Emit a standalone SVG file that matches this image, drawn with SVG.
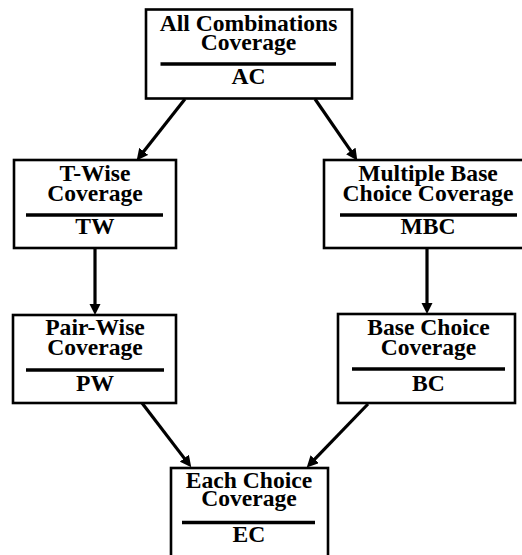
<svg xmlns="http://www.w3.org/2000/svg" width="522" height="555" viewBox="0 0 522 555">
<style>
.box{fill:#fff;stroke:#000;stroke-width:2.6}
.sep{stroke:#000;stroke-width:3.4}
.t{font-family:"Liberation Serif","Times New Roman",serif;font-weight:bold;font-size:23.6px;text-anchor:middle;fill:#000}
.c{fill:none;stroke:#000;stroke-width:3.2}
</style>
<defs>
<marker id="ah" markerUnits="userSpaceOnUse" markerWidth="12" markerHeight="12" refX="3" refY="5.75" orient="auto">
<path d="M0,0 L11.5,5.75 L0,11.5 z" fill="#000"/>
</marker>
</defs>
<rect width="522" height="555" fill="#fff"/>
<g id="connectors">
<path class="c" d="M185,99 L141.9,153.7" marker-end="url(#ah)"/>
<path class="c" d="M315,99 L352.5,153.4" marker-end="url(#ah)"/>
<path class="c" d="M95,249 L95,306.5" marker-end="url(#ah)"/>
<path class="c" d="M427,249 L427,305.5" marker-end="url(#ah)"/>
<path class="c" d="M142,403 L186.1,460.6" marker-end="url(#ah)"/>
<path class="c" d="M368,404 L312.6,461.3" marker-end="url(#ah)"/>
</g>
<g id="AC">
<rect class="box" x="146" y="9.5" width="206" height="89"/>
<text class="t" x="248.5" y="30.5">All Combinations</text>
<text class="t" x="248.5" y="49.5">Coverage</text>
<line class="sep" x1="160.5" y1="64" x2="336" y2="64"/>
<text class="t" x="248.5" y="84">AC</text>
</g>
<g id="TW">
<rect class="box" x="14" y="160" width="162" height="88"/>
<text class="t" x="95" y="181">T-Wise</text>
<text class="t" x="95" y="201">Coverage</text>
<line class="sep" x1="26" y1="215" x2="163" y2="215"/>
<text class="t" x="95" y="234">TW</text>
</g>
<g id="MBC">
<rect class="box" x="324" y="160" width="210" height="88"/>
<text class="t" x="428" y="181">Multiple Base</text>
<text class="t" x="428" y="201">Choice Coverage</text>
<line class="sep" x1="340" y1="215" x2="517" y2="215"/>
<text class="t" x="428" y="234">MBC</text>
</g>
<g id="PW">
<rect class="box" x="13" y="315" width="163" height="88"/>
<text class="t" x="95" y="335">Pair-Wise</text>
<text class="t" x="95" y="355">Coverage</text>
<line class="sep" x1="26" y1="370" x2="164" y2="370"/>
<text class="t" x="95" y="390.5">PW</text>
</g>
<g id="BC">
<rect class="box" x="338" y="314" width="177" height="89"/>
<text class="t" x="428.5" y="335">Base Choice</text>
<text class="t" x="428.5" y="355">Coverage</text>
<line class="sep" x1="352" y1="369" x2="505" y2="369"/>
<text class="t" x="428.5" y="390.5">BC</text>
</g>
<g id="EC">
<rect class="box" x="171" y="468" width="157" height="95"/>
<text class="t" x="249" y="488">Each Choice</text>
<text class="t" x="249" y="506">Coverage</text>
<line class="sep" x1="182" y1="522.5" x2="315" y2="522.5"/>
<text class="t" x="249" y="542">EC</text>
</g>
</svg>
